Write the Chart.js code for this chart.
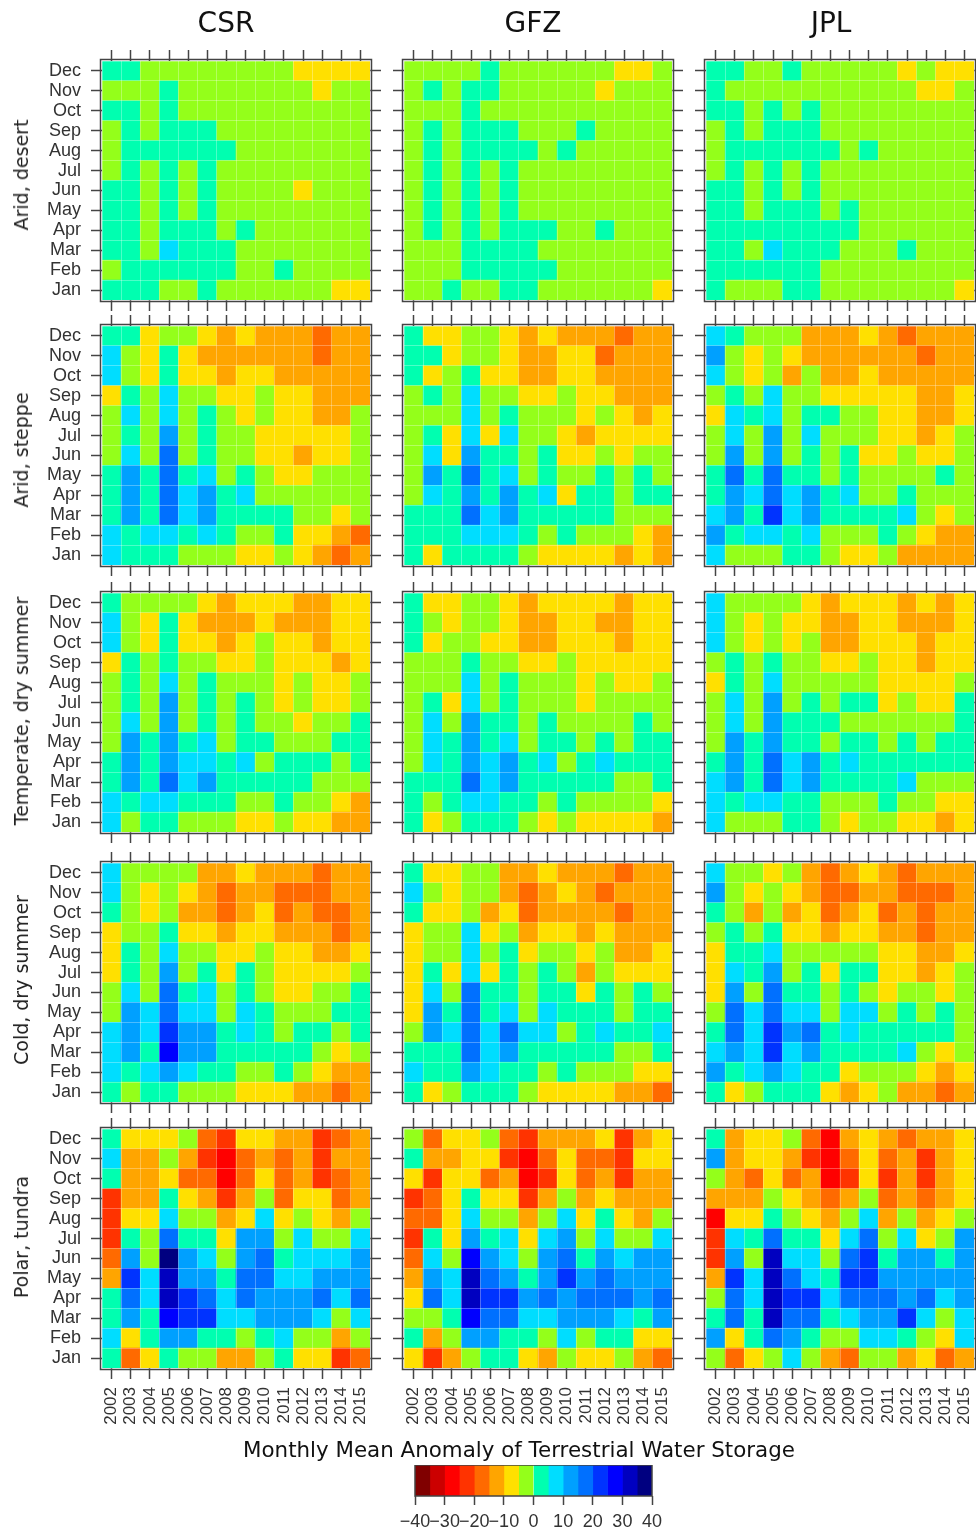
<!DOCTYPE html>
<html>
<head>
<meta charset="utf-8">
<title>Monthly Mean Anomaly of Terrestrial Water Storage</title>
<script src="https://cdn.jsdelivr.net/npm/chart.js@4/dist/chart.umd.min.js"></script>
<style>
  body { margin: 0; background: #fff; }
  #page { position: relative; width: 976px; height: 1531px; overflow: hidden; }
  #page canvas { position: absolute; filter: blur(0.4px); }
  .head { position: absolute; font-family: "DejaVu Sans", sans-serif; color: #111; white-space: nowrap; transform: translateX(-50%); filter: blur(0.4px); }
  .side { position: absolute; font-family: "DejaVu Sans", sans-serif; font-size: 19px; color: #222; white-space: nowrap; transform: translate(-50%, -50%) rotate(-90deg); filter: blur(0.4px); }
</style>
</head>
<body>
<div id="page"></div>
<script>
const years = ["2002","2003","2004","2005","2006","2007","2008","2009","2010","2011","2012","2013","2014","2015"];
const months = ["Dec","Nov","Oct","Sep","Aug","Jul","Jun","May","Apr","Mar","Feb","Jan"];
const products = ["CSR","GFZ","JPL"];
const climates = ["Arid, desert","Arid, steppe","Temperate, dry summer","Cold, dry summer","Polar, tundra"];

// rows run Dec -> Jan, columns 2002 -> 2015, values
const desertCSR = [
[3,3,-3,-3,-3,-3,-3,-3,-3,-3,-8,-8,-8,-8],
[-3,-3,-3,3,-3,-3,-3,-3,-3,-3,-3,-8,-3,-3],
[3,3,-3,3,-3,-3,-3,-3,-3,-3,-3,-3,-3,-3],
[-3,3,-3,3,3,3,-3,-3,-3,-3,-3,-3,-3,-3],
[-3,3,3,3,3,3,3,-3,-3,-3,-3,-3,-3,-3],
[-3,3,-3,3,-3,3,-3,-3,-3,-3,-3,-3,-3,-3],
[3,3,-3,3,-3,3,-3,-3,-3,-3,-8,-3,-3,-3],
[3,3,-3,3,-3,3,-3,-3,-3,-3,-3,-3,-3,-3],
[3,3,-3,3,3,3,-3,3,-3,-3,-3,-3,-3,-3],
[3,3,-3,8,3,3,3,-3,-3,-3,-3,-3,-3,-3],
[-3,3,3,3,3,3,3,-3,-3,3,-3,-3,-3,-3],
[3,3,3,-3,-3,3,-3,-3,-3,-3,-3,-3,-8,-8]];
const desertGFZ = [
[-3,-3,-3,-3,3,-3,-3,-3,-3,-3,-3,-8,-8,-3],
[-3,3,-3,3,3,-3,-3,-3,-3,-3,-8,-3,-3,-3],
[-3,-3,-3,3,-3,-3,-3,-3,-3,-3,-3,-3,-3,-3],
[-3,3,-3,3,3,3,-3,-3,-3,3,-3,-3,-3,-3],
[-3,3,-3,3,3,3,3,-3,3,-3,-3,-3,-3,-3],
[-3,3,-3,3,-3,3,-3,-3,-3,-3,-3,-3,-3,-3],
[-3,3,-3,3,-3,3,-3,-3,-3,-3,-3,-3,-3,-3],
[-3,3,-3,3,-3,3,-3,-3,-3,-3,-3,-3,-3,-3],
[-3,3,-3,3,-3,3,3,3,-3,-3,3,-3,-3,-3],
[-3,-3,-3,3,3,3,3,-3,-3,-3,-3,-3,-3,-3],
[-3,-3,-3,3,3,3,3,3,-3,-3,-3,-3,-3,-3],
[-3,-3,3,-3,-3,3,3,-3,-3,-3,-3,-3,-3,-8]];
const desertJPL = [
[3,3,-3,-3,3,-3,-3,-3,-3,-3,-8,-3,-8,-8],
[3,-3,-3,-3,-3,-3,-3,-3,-3,-3,-3,-8,-8,-3],
[3,3,-3,3,-3,3,-3,-3,-3,-3,-3,-3,-3,-3],
[-3,3,-3,3,3,3,-3,-3,-3,-3,-3,-3,-3,-3],
[-3,3,3,3,3,3,3,-3,3,-3,-3,-3,-3,-3],
[-3,3,-3,3,-3,3,-3,-3,-3,-3,-3,-3,-3,-3],
[3,3,-3,3,-3,3,-3,-3,-3,-3,-3,-3,-3,-3],
[3,3,-3,3,3,3,-3,3,-3,-3,-3,-3,-3,-3],
[3,3,3,3,3,3,3,3,-3,-3,-3,-3,-3,-3],
[3,3,-3,8,3,3,3,-3,-3,-3,3,-3,-3,-3],
[3,3,3,3,3,3,-3,-3,-3,-3,-3,-3,-3,-3],
[3,-3,-3,-3,3,3,-3,-3,-3,-3,-3,-3,-3,-8]];

const steppeCSR = [
[3,3,-8,-3,-3,-8,-13,-8,-13,-13,-13,-18,-13,-13],
[8,-3,-8,3,-8,-13,-13,-13,-13,-13,-13,-18,-13,-13],
[8,-3,-8,3,-8,-8,-13,-8,-8,-13,-13,-13,-13,-13],
[-8,3,-3,8,-3,-3,-8,-8,-3,-8,-8,-13,-13,-13],
[-3,8,-3,8,-3,3,-3,-8,-3,-8,-8,-13,-13,-3],
[-3,3,-3,13,-3,3,-3,-3,-8,-8,-8,-8,-8,-3],
[-3,8,-3,18,-3,3,-3,-3,-8,-8,-13,-8,-8,-3],
[3,13,3,18,3,8,-3,3,-3,-8,-8,-3,-3,-3],
[3,13,3,18,8,13,3,8,-3,-3,-3,-3,-3,-3],
[3,13,3,18,8,13,3,3,3,3,-3,-3,-8,-3],
[8,3,8,8,3,8,3,-3,-3,3,-8,-8,-13,-18],
[8,3,3,3,-3,-3,-3,-8,-8,-3,-8,-13,-18,-13]];
const steppeGFZ = [
[3,-8,-8,-3,-3,-8,-13,-8,-13,-13,-13,-18,-13,-13],
[3,3,-8,-3,-3,-8,-13,-13,-8,-8,-18,-13,-13,-13],
[3,-8,-3,3,-8,-8,-13,-13,-8,-8,-13,-13,-13,-13],
[-3,3,-3,8,-3,-3,-8,-8,-3,-8,-8,-13,-13,-13],
[-3,-3,-3,8,-3,3,-3,-3,-3,-8,-3,-8,-13,-8],
[-3,3,-8,8,-8,8,-3,-3,-8,-13,-8,-8,-8,-8],
[-3,8,-8,13,3,3,-3,3,-8,-8,-3,-8,-3,-3],
[-3,13,3,18,3,8,-3,3,-3,-3,3,-3,3,-3],
[-3,8,3,13,3,13,3,8,-8,3,3,-3,3,3],
[3,3,3,18,8,13,3,3,3,3,3,-3,-3,-3],
[3,3,3,8,8,8,3,-3,3,-3,-3,-3,-8,-13],
[3,-8,3,3,3,3,-3,-8,-8,-8,-8,-13,-8,-13]];
const steppeJPL = [
[8,3,-3,-3,-3,-13,-13,-13,-8,-13,-18,-13,-13,-13],
[13,-3,-8,-3,-8,-13,-13,-13,-13,-13,-13,-18,-13,-13],
[8,-3,-8,-3,-13,-3,-13,-13,-8,-13,-13,-13,-13,-13],
[-3,3,-3,8,-3,-3,-8,-8,-8,-8,-8,-13,-13,-8],
[-8,8,3,8,-3,3,3,-3,-3,-8,-8,-13,-13,-8],
[-3,8,-3,13,-3,8,-3,-3,-3,-8,-8,-13,-8,-3],
[-3,13,-3,13,-3,3,-3,3,-8,-8,-3,-8,-8,-3],
[3,18,3,18,3,3,-3,3,-3,-3,-3,-3,3,-3],
[3,13,8,18,8,13,3,8,-3,-3,3,-3,-3,-3],
[8,13,3,23,8,13,3,3,3,3,8,-3,-8,-3],
[13,3,8,8,3,8,-3,-3,-3,3,-3,-8,-13,-13],
[8,-3,-3,-3,3,3,-3,-8,-8,-3,-13,-13,-13,-13]];

const temperateCSR = [
[3,-3,-3,-3,-3,-8,-13,-8,-8,-8,-13,-13,-8,-8],
[8,-3,-8,3,-8,-13,-13,-13,-8,-13,-13,-13,-8,-8],
[8,-3,-8,3,-8,-8,-13,-8,-3,-8,-8,-13,-8,-8],
[-8,3,-3,3,-3,-3,-8,-8,-3,-8,-8,-8,-13,-8],
[-3,3,-3,8,-3,3,-3,-3,-3,-8,-3,-8,-8,-3],
[-3,3,-3,13,-3,3,-3,3,-3,-8,-3,-8,-8,-3],
[-3,8,-3,13,-3,3,-3,3,-3,-3,-8,-3,-3,3],
[-3,13,3,13,3,8,-3,3,3,-3,-3,-3,3,3],
[3,13,3,13,8,8,3,8,-3,3,3,3,-3,3],
[3,13,3,18,8,13,3,3,3,3,3,-3,-3,-3],
[8,3,8,8,3,3,3,-3,-3,3,-3,-3,-8,-13],
[8,-3,3,3,-3,-3,-3,-8,-8,-3,-8,-8,-13,-13]];
const temperateGFZ = [
[3,-8,-8,-3,-3,-8,-13,-8,-8,-8,-8,-13,-8,-8],
[3,-3,-8,-3,-3,-8,-13,-13,-8,-8,-13,-13,-8,-8],
[3,-8,-3,-3,-8,-8,-13,-13,-8,-8,-8,-13,-8,-8],
[-3,-3,-3,3,-3,-3,-8,-8,-3,-8,-8,-8,-8,-8],
[-3,-3,-3,8,-3,3,-3,-3,-3,-8,-3,-8,-8,-3],
[-3,3,-8,8,-3,3,-3,-3,-3,-8,-3,-3,-3,-3],
[-3,8,-3,13,3,3,-3,3,-3,-3,-3,-3,3,-3],
[-3,8,3,13,3,8,-3,3,3,-3,3,-3,3,3],
[-3,8,3,13,8,13,3,8,-3,3,8,3,3,3],
[3,3,3,18,8,13,3,3,3,3,3,-3,-3,3],
[3,-3,3,8,8,3,3,-3,3,-3,-3,-3,-3,-8],
[3,-8,-3,3,3,3,-3,-8,-3,-8,-8,-8,-8,-13]];
const temperateJPL = [
[8,-3,-3,-3,-3,-8,-13,-8,-8,-8,-13,-8,-13,-8],
[8,-3,-8,-3,-8,-8,-13,-13,-8,-8,-13,-13,-13,-8],
[8,-3,-8,-3,-8,-3,-13,-13,-8,-8,-8,-13,-8,-8],
[-3,3,-3,3,-3,-3,-8,-8,-3,-8,-8,-13,-8,-8],
[-8,3,-3,8,-3,-3,-3,-3,-3,-8,-8,-8,-8,-3],
[-3,8,-3,13,-3,3,-3,3,3,-8,-3,-8,-8,3],
[-3,8,-3,13,3,3,3,-3,-3,-3,-3,-3,-3,3],
[-3,13,3,13,3,3,-3,3,3,-3,3,-3,3,3],
[3,13,3,18,8,13,3,8,3,3,3,3,3,3],
[8,13,3,18,8,13,3,3,3,3,8,-3,-3,-3],
[8,3,8,8,3,3,-3,-3,-3,3,-3,-3,-8,-8],
[8,-3,-3,-3,3,3,-3,-8,-3,-3,-8,-8,-13,-8]];

const coldCSR = [
[8,-3,-3,-3,-3,-13,-13,-8,-13,-13,-13,-18,-13,-13],
[8,-3,-8,-3,-8,-13,-18,-13,-13,-18,-18,-18,-13,-13],
[3,-3,-8,-3,-13,-13,-18,-13,-8,-18,-13,-18,-18,-13],
[-8,-3,-3,3,-8,-8,-13,-8,-8,-13,-13,-13,-18,-13],
[-8,3,-3,8,-3,-3,-8,-8,-3,-8,-8,-13,-13,-8],
[-8,3,-3,13,-3,3,-8,3,-3,-8,-8,-8,-8,-3],
[-3,8,-3,18,3,8,-3,3,-3,-8,-8,-3,-3,3],
[-3,13,8,18,8,8,-3,8,3,-3,-3,-3,3,3],
[8,13,8,23,13,13,3,8,3,-3,3,3,-3,3],
[8,13,3,28,13,13,3,3,3,3,3,-3,-8,-3],
[8,3,8,13,8,3,3,-3,-3,3,-3,-8,-13,-13],
[3,-3,3,3,-3,-3,-3,-8,-8,-8,-13,-13,-18,-13]];
const coldGFZ = [
[3,-8,-8,-3,-3,-13,-13,-8,-13,-13,-13,-18,-13,-13],
[8,-3,-8,-3,-3,-13,-18,-13,-8,-13,-18,-13,-13,-13],
[3,-8,-8,-3,-13,-8,-18,-13,-13,-13,-13,-18,-13,-13],
[-8,-3,-3,8,-8,-3,-13,-8,-8,-13,-8,-13,-13,-13],
[-8,-3,-3,8,-3,3,-8,-3,-3,-8,-3,-13,-13,-8],
[-8,3,-8,8,-8,3,-3,3,-3,-13,-3,-8,-8,-8],
[-8,8,-3,18,3,3,-3,3,3,-8,3,-3,3,-3],
[-8,13,3,18,3,8,-3,8,3,3,3,-3,3,3],
[-3,13,8,18,8,18,8,8,-3,3,8,3,3,8],
[3,3,3,18,8,13,3,3,3,3,3,-3,-3,3],
[8,3,3,13,8,3,3,-3,3,-3,-3,-3,-8,-8],
[3,-8,-3,3,3,3,-3,-8,-8,-8,-8,-13,-13,-18]];
const coldJPL = [
[8,-3,-3,-8,-3,-13,-18,-13,-8,-13,-18,-13,-13,-13],
[13,-3,-8,-3,-8,-13,-18,-18,-13,-13,-18,-18,-18,-13],
[3,-3,-13,-3,-13,-8,-18,-13,-8,-18,-13,-18,-13,-13],
[-3,3,-3,3,-8,-8,-13,-8,-8,-13,-13,-18,-13,-13],
[-8,3,3,8,-3,-3,-3,-3,-3,-8,-8,-13,-13,-8],
[-8,8,3,13,-3,3,-8,3,3,-8,-8,-13,-8,-3],
[-8,13,-3,18,3,3,-3,3,-3,-8,-3,-3,-8,-3],
[-3,18,8,18,8,8,-3,8,8,-3,3,-3,3,-3],
[3,18,8,23,13,18,3,8,3,3,3,3,3,-3],
[8,13,8,23,8,13,3,3,3,3,8,-3,-8,-3],
[13,3,8,13,8,3,3,-8,-3,-3,-3,-8,-13,-8],
[3,-8,-3,3,3,3,-8,-13,-8,-3,-13,-13,-18,-13]];

const polarCSR = [
[3,-8,-8,-8,-3,-18,-23,-8,-8,-13,-13,-23,-18,-13],
[8,-13,-13,-3,-13,-23,-28,-18,-13,-18,-13,-23,-13,-13],
[3,-13,-13,-8,-18,-18,-28,-18,-8,-18,-13,-23,-18,-13],
[-23,-13,-13,3,-8,-13,-23,-13,-3,-18,-8,-8,-18,-13],
[-23,-8,-8,8,-3,-3,-13,-8,8,-8,-3,-8,-13,-3],
[-23,3,-3,18,3,3,-8,13,13,-3,8,-3,-3,8],
[-18,13,-3,38,13,8,-3,13,18,3,8,8,8,13],
[-13,23,8,33,13,13,3,18,18,8,8,13,13,13],
[3,18,8,33,23,18,8,18,13,13,13,18,8,18],
[3,13,3,28,23,23,8,8,13,13,13,8,-3,8],
[8,-8,3,13,13,3,3,-3,3,8,-3,-3,-13,-3],
[3,-18,-8,3,-3,-3,-13,-13,-3,3,-8,-8,-23,-18]];
const polarGFZ = [
[-3,-18,-8,-8,-3,-18,-23,-13,-13,-13,-8,-23,-13,-8],
[3,-13,-13,-8,-8,-23,-28,-18,-8,-18,-18,-23,-8,-8],
[-8,-23,-8,-8,-18,-13,-28,-23,-8,-18,-13,-23,-13,-13],
[-23,-18,-8,3,-8,-8,-23,-13,-3,-13,-8,-13,-13,-13],
[-18,-18,-8,8,-3,-3,-13,-3,8,-8,3,-8,-13,-3],
[-23,3,-8,13,3,8,-8,8,13,-3,8,-3,-3,8],
[-18,8,-3,28,13,8,-3,13,18,3,13,8,13,13],
[-13,13,8,33,18,13,3,13,23,13,18,13,13,13],
[-8,18,8,33,23,23,13,18,13,18,18,18,13,18],
[-3,-3,3,28,18,18,8,8,13,13,13,8,3,13],
[3,-13,-3,13,13,3,3,-3,8,-3,3,3,-8,-8],
[-8,-23,-13,-3,3,3,-8,-13,-3,-8,-8,-3,-13,-18]];
const polarJPL = [
[3,-13,-8,-8,-3,-18,-28,-13,-8,-13,-18,-13,-13,-8],
[13,-13,-8,-8,-13,-23,-28,-18,-8,-18,-13,-23,-13,-8],
[-3,-13,-18,-8,-18,-13,-28,-23,-8,-23,-13,-23,-13,-8],
[-13,-13,-13,-3,-8,-13,-18,-13,-3,-18,-13,-18,-13,-8],
[-28,-8,-8,3,-3,-8,-13,-3,8,-13,-3,-13,-8,-3],
[-23,8,3,18,3,3,-8,8,18,-3,8,-8,-3,13],
[-23,13,-3,33,8,8,-3,18,23,3,13,13,3,13],
[-13,23,8,33,18,8,3,23,23,13,13,13,13,13],
[-3,18,8,33,23,23,8,18,18,18,13,18,8,13],
[3,18,3,33,18,18,3,8,13,13,23,8,-3,8],
[13,-8,3,18,13,3,-3,-3,8,8,3,-3,-8,8],
[-3,-18,-8,-3,8,-3,-13,-18,-3,-3,-13,-8,-18,-13]];

const panelValues = [
  [desertCSR, desertGFZ, desertJPL],
  [steppeCSR, steppeGFZ, steppeJPL],
  [temperateCSR, temperateGFZ, temperateJPL],
  [coldCSR, coldGFZ, coldJPL],
  [polarCSR, polarGFZ, polarJPL]
];

// colour key: one colour per 5-unit class between the breaks
const keyBreaks = [-40,-35,-30,-25,-20,-15,-10,-5,0,5,10,15,20,25,30,35,40];
const keyColors = ["#800000","#cc0000","#ff0000","#ff3300","#ff6a00","#ffa500","#ffe000","#94ff1a",
                   "#00ffb0","#00ddff","#00a0ff","#0070ff","#0033ff","#0000ff","#0000c0","#000080"];

const colX = [102, 404, 706];
const rowY = [61, 326, 593, 862.5, 1128.5];
const sideY = [175, 449.5, 711, 980, 1237];
const cellsW = 268;
const cellsH = 239;
const inkColor = "#444";
const labelColor = "#333";

const page = document.getElementById("page");

function colorFor(v) {
  return keyColors[Math.floor((v + 40) / 5)];
}

function addCanvas(left, top, width, height) {
  const c = document.createElement("canvas");
  c.width = width;
  c.height = height;
  c.style.left = left + "px";
  c.style.top = top + "px";
  page.appendChild(c);
  return c;
}

// dark box around the cells, a little outside of them like the lattice panels
const framePlugin = {
  id: "frame",
  afterDraw(chart, args, opts) {
    const a = chart.chartArea;
    const p = opts.pad;
    const ctx = chart.ctx;
    ctx.save();
    ctx.strokeStyle = inkColor;
    ctx.lineWidth = 1.5;
    ctx.strokeRect(a.left - p, a.top - p, a.right - a.left + 2 * p, a.bottom - a.top + 2 * p);
    ctx.restore();
  }
};

function monthTicks(scale) {
  scale.ticks = months.map((m, i) => ({ value: i + 0.5 }));
}

function tickGrid() {
  return { drawOnChartArea: false, tickLength: 11, tickColor: inkColor, tickWidth: 1.5, offset: false };
}

// fixed axis size, and no extra room asked for overhanging labels
function fixSize(scale, prop, size) {
  scale[prop] = size;
  scale.paddingLeft = 0;
  scale.paddingRight = 0;
  scale.paddingTop = 0;
  scale.paddingBottom = 0;
}

function drawPanel(r, c) {
  const showMonths = c === 0;
  const showYears = r === 4;
  const mLeft = showMonths ? 102 : 14;
  const mTop = 14;
  const mRight = 14;
  const mBottom = showYears ? 70 : 13;
  const canvas = addCanvas(colX[c] - mLeft, rowY[r] - mTop, mLeft + cellsW + mRight, mTop + cellsH + mBottom);
  const values = panelValues[r][c];

  // stacked bars of height 1, Jan at the bottom
  const datasets = months.map((m, i) => ({
    label: m,
    data: years.map(() => 1),
    backgroundColor: values[i].map(colorFor)
  })).reverse();

  new Chart(canvas, {
    type: "bar",
    data: { labels: years, datasets },
    plugins: [framePlugin],
    options: {
      responsive: false,
      animation: false,
      events: [],
      layout: { padding: 0 },
      datasets: { bar: { categoryPercentage: 1, barPercentage: 1, borderWidth: 0 } },
      plugins: { legend: { display: false }, tooltip: { enabled: false }, frame: { pad: 1.5 } },
      scales: {
        x: {
          stacked: true, offset: true, position: "bottom",
          grid: tickGrid(), border: { display: false },
          ticks: {
            display: showYears, autoSkip: false, minRotation: 90, maxRotation: 90,
            padding: 8, color: labelColor, font: { family: "Liberation Sans", size: 17 }
          },
          afterFit: (s) => fixSize(s, "height", mBottom)
        },
        xTop: {
          type: "category", offset: true, position: "top",
          grid: tickGrid(), border: { display: false },
          ticks: { display: false },
          afterFit: (s) => fixSize(s, "height", mTop)
        },
        xCells: {
          type: "category", offset: true, position: "bottom",
          grid: { offset: true, drawTicks: false, color: "rgba(255,255,255,0.3)", z: 1 },
          border: { display: false }, ticks: { display: false },
          afterFit: (s) => fixSize(s, "height", 0)
        },
        y: {
          stacked: true, min: 0, max: 12, position: "left",
          grid: tickGrid(), border: { display: false },
          ticks: {
            display: showMonths, autoSkip: false, padding: 10, color: labelColor,
            font: { family: "Liberation Sans", size: 18 },
            callback: (v) => months[11 - Math.floor(v)]
          },
          afterBuildTicks: monthTicks,
          afterFit: (s) => fixSize(s, "width", mLeft)
        },
        yRight: {
          type: "linear", min: 0, max: 12, position: "right",
          grid: tickGrid(), border: { display: false },
          ticks: { display: false },
          afterBuildTicks: monthTicks,
          afterFit: (s) => fixSize(s, "width", mRight)
        },
        yCells: {
          type: "linear", min: 0, max: 12, position: "right",
          grid: { drawTicks: false, color: "rgba(255,255,255,0.3)", z: 1 },
          border: { display: false },
          ticks: { display: false, stepSize: 1 },
          afterFit: (s) => fixSize(s, "width", 0)
        }
      }
    }
  });
}

function drawKey() {
  const mLeft = 35;
  const mBottom = 40;
  const canvas = addCanvas(415 - mLeft, 1465, mLeft + 237 + mLeft, 31 + mBottom);
  const datasets = keyColors.map((color, i) => ({
    data: [[keyBreaks[i], keyBreaks[i + 1]]],
    backgroundColor: color
  }));
  new Chart(canvas, {
    type: "bar",
    data: { labels: ["key"], datasets },
    plugins: [framePlugin],
    options: {
      indexAxis: "y",
      responsive: false,
      animation: false,
      events: [],
      layout: { padding: { left: mLeft, right: mLeft } },
      datasets: { bar: { categoryPercentage: 1, barPercentage: 1, borderWidth: 0, grouped: false } },
      plugins: { legend: { display: false }, tooltip: { enabled: false }, frame: { pad: 0 } },
      scales: {
        x: {
          min: -40, max: 40, position: "bottom",
          grid: { drawOnChartArea: false, tickLength: 9, tickColor: inkColor, tickWidth: 1.5 },
          border: { display: false },
          ticks: {
            stepSize: 10, autoSkip: false, minRotation: 0, maxRotation: 0, padding: 6, color: labelColor,
            font: { family: "Liberation Sans", size: 18 },
            callback: (v) => (v < 0 ? "\u2212" + Math.abs(v) : String(v))
          },
          afterFit: (s) => fixSize(s, "height", mBottom)
        },
        y: { display: false }
      }
    }
  });
}

function addHead(text, x, y, size) {
  const d = document.createElement("div");
  d.className = "head";
  d.textContent = text;
  d.style.left = x + "px";
  d.style.top = y + "px";
  d.style.fontSize = size + "px";
  page.appendChild(d);
}

function addSide(text, y) {
  const d = document.createElement("div");
  d.className = "side";
  d.textContent = text;
  d.style.left = "20.5px";
  d.style.top = y + "px";
  page.appendChild(d);
}

products.forEach((p, i) => addHead(p, [226, 533, 831][i], 6, 28));
addHead("Monthly Mean Anomaly of Terrestrial Water Storage", 519, 1437, 21.4);
climates.forEach((name, r) => addSide(name, sideY[r]));

climates.forEach((name, r) => products.forEach((p, c) => drawPanel(r, c)));
drawKey();
</script>
</body>
</html>
